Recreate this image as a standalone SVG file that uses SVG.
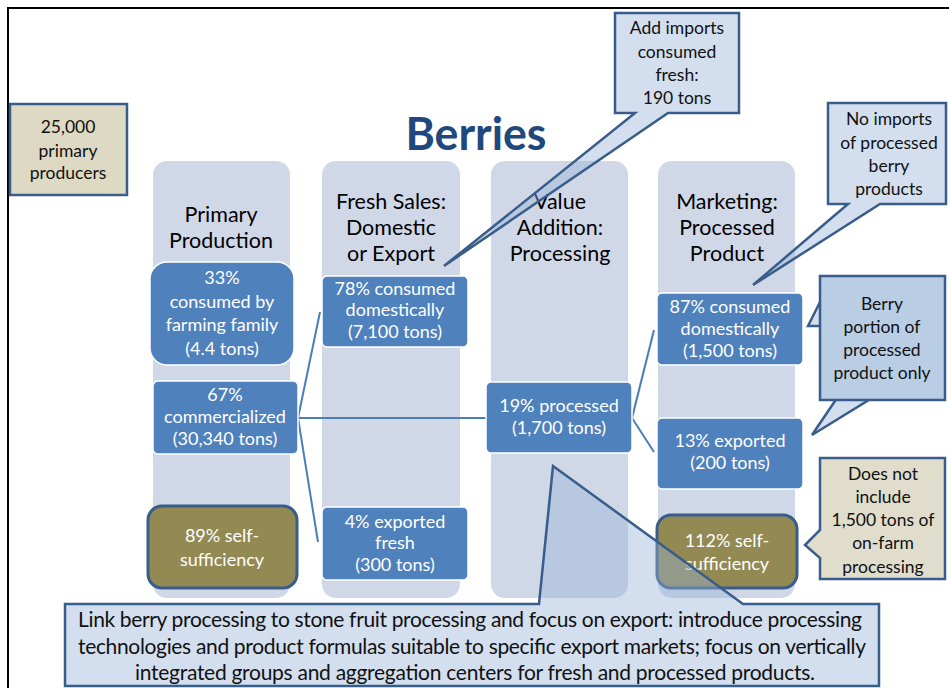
<svg xmlns="http://www.w3.org/2000/svg" width="949" height="688" viewBox="0 0 949 688">
  <style>
    text { font-family: Lato, "Open Sans", "Liberation Sans", sans-serif; text-anchor: middle; }
    .col { fill: #d0d8e8; }
    .head { font-size: 21.5px; fill: #000; }
    .box { fill: #4f81bd; stroke: #ffffff; stroke-width: 1.5; }
    .box-t { font-size: 18px; fill: #ffffff; }
    .olive { fill: #938953; stroke: #385d8a; stroke-width: 3; }
    .note { fill: #95b3d7; fill-opacity: 0.42; stroke: #385d8a; stroke-width: 2.5; stroke-linejoin: miter; }
    .note-t { font-size: 17.5px; fill: #111; }
    .tan { fill: #ddd9c3; stroke: #385d8a; stroke-width: 2.5; }
    .link { stroke: #4a7ebb; stroke-width: 2; fill: none; }
    .rec-t { font-size: 21px; fill: #111; }
  </style>

  <!-- page frame -->
  <path d="M8,688 V8 H949" fill="none" stroke="#000" stroke-width="2"/>

  <!-- title -->
  <text x="476" y="150" font-size="46" font-weight="bold" fill="#1f497d" textLength="141" lengthAdjust="spacingAndGlyphs">Berries</text>

  <!-- stage columns -->
  <g id="col-primary">
    <rect class="col" x="153" y="161" width="137" height="437" rx="14"/>
    <text class="head" x="221" y="222">Primary</text>
    <text class="head" x="221" y="248">Production</text>
  </g>
  <g id="col-fresh">
    <rect class="col" x="322" y="161" width="138" height="437" rx="14"/>
    <text class="head" x="391" y="209">Fresh Sales:</text>
    <text class="head" x="391" y="235">Domestic</text>
    <text class="head" x="391" y="261">or Export</text>
  </g>
  <g id="col-value">
    <rect class="col" x="491" y="161" width="137" height="437" rx="14"/>
    <text class="head" x="560" y="209">Value</text>
    <text class="head" x="560" y="235">Addition:</text>
    <text class="head" x="560" y="261">Processing</text>
  </g>
  <g id="col-marketing">
    <rect class="col" x="658" y="161" width="137" height="437" rx="14"/>
    <text class="head" x="727" y="209">Marketing:</text>
    <text class="head" x="727" y="235">Processed</text>
    <text class="head" x="727" y="261">Product</text>
  </g>

  <!-- flow connectors -->
  <g id="connectors">
    <path class="link" d="M298,418 L320,312"/>
    <path class="link" d="M298,418 H487"/>
    <path class="link" d="M298,418 L318,542"/>
    <path class="link" d="M632,418 L654,330"/>
    <path class="link" d="M632,418 L654,452"/>
  </g>

  <!-- flow nodes -->
  <g id="n-family">
    <rect class="box" x="150" y="262" width="144" height="103" rx="17"/>
    <text class="box-t" x="222" y="284">33%</text>
    <text class="box-t" x="222" y="308">consumed by</text>
    <text class="box-t" x="222" y="331">farming family</text>
    <text class="box-t" x="222" y="355">(4.4 tons)</text>
  </g>
  <g id="n-commercial">
    <rect class="box" x="153" y="381" width="145" height="73" rx="5"/>
    <text class="box-t" x="225" y="401">67%</text>
    <text class="box-t" x="225" y="423">commercialized</text>
    <text class="box-t" x="225" y="445">(30,340 tons)</text>
  </g>
  <g id="n-fresh-dom">
    <rect class="box" x="322" y="276" width="146" height="71" rx="5"/>
    <text class="box-t" x="395" y="295">78% consumed</text>
    <text class="box-t" x="395" y="316">domestically</text>
    <text class="box-t" x="395" y="338">(7,100 tons)</text>
  </g>
  <g id="n-fresh-exp">
    <rect class="box" x="322" y="507" width="146" height="73" rx="5"/>
    <text class="box-t" x="395" y="528">4% exported</text>
    <text class="box-t" x="395" y="549">fresh</text>
    <text class="box-t" x="395" y="571">(300 tons)</text>
  </g>
  <g id="n-processed">
    <rect class="box" x="486" y="382" width="146" height="71" rx="5"/>
    <text class="box-t" x="559" y="412">19% processed</text>
    <text class="box-t" x="559" y="434">(1,700 tons)</text>
  </g>
  <g id="n-proc-dom">
    <rect class="box" x="657" y="293" width="146" height="72" rx="5"/>
    <text class="box-t" x="730" y="313">87% consumed</text>
    <text class="box-t" x="730" y="335">domestically</text>
    <text class="box-t" x="730" y="357">(1,500 tons)</text>
  </g>
  <g id="n-proc-exp">
    <rect class="box" x="657" y="418" width="146" height="71" rx="5"/>
    <text class="box-t" x="730" y="447">13% exported</text>
    <text class="box-t" x="730" y="469">(200 tons)</text>
  </g>
  <g id="n-self-primary">
    <rect class="olive" x="148" y="506" width="149" height="82" rx="14"/>
    <text class="box-t" x="222" y="542">89% self-</text>
    <text class="box-t" x="222" y="566">sufficiency</text>
  </g>
  <g id="n-self-processed">
    <rect class="olive" x="657" y="515" width="140" height="73" rx="14"/>
    <text class="box-t" x="727" y="547">112% self-</text>
    <text class="box-t" x="727" y="570">sufficiency</text>
  </g>

  <!-- side notes -->
  <g id="note-producers">
    <rect class="tan" x="10" y="104" width="117" height="91"/>
    <text class="note-t" x="68" y="133" font-size="19">25,000</text>
    <text class="note-t" x="68" y="157" font-size="19">primary</text>
    <text class="note-t" x="68" y="179" font-size="19">producers</text>
  </g>
  <g id="note-imports-fresh">
    <path class="note" d="M615,13 H739 V113 H668 L444,266 L635,113 H615 Z"/>
    <text class="note-t" x="677" y="34">Add imports</text>
    <text class="note-t" x="677" y="58">consumed</text>
    <text class="note-t" x="677" y="81">fresh:</text>
    <text class="note-t" x="677" y="104">190 tons</text>
  </g>
  <g id="note-imports-processed">
    <path class="note" d="M828,103 H946 V204 H880 L753,285 L848,204 H828 Z"/>
    <text class="note-t" x="889" y="125">No imports</text>
    <text class="note-t" x="889" y="149">of processed</text>
    <text class="note-t" x="889" y="172">berry</text>
    <text class="note-t" x="889" y="195">products</text>
  </g>
  <g id="note-berry-portion">
    <path class="note" d="M823,296 L808,326 L824,326 Z"/>
    <path class="note" d="M837,398 L812,435 L872,398 Z"/>
    <rect x="820" y="276" width="125" height="124" fill="#b9cde5" stroke="#385d8a" stroke-width="2.5"/>
    <text class="note-t" x="882" y="310" font-size="18">Berry</text>
    <text class="note-t" x="882" y="333" font-size="18">portion of</text>
    <text class="note-t" x="882" y="356" font-size="18">processed</text>
    <text class="note-t" x="882" y="379" font-size="18">product only</text>
  </g>
  <g id="note-on-farm">
    <path class="tan" d="M820,458 H945 V579 H820 V558 L805,545 L820,530 Z" style="fill:#e0ddcd"/>
    <text class="note-t" x="883" y="480">Does not</text>
    <text class="note-t" x="883" y="503">include</text>
    <text class="note-t" x="883" y="526">1,500 tons of</text>
    <text class="note-t" x="883" y="549">on-farm</text>
    <text class="note-t" x="883" y="573">processing</text>
  </g>
  <g id="note-recommendation">
    <path class="note" d="M65,604 H539 L553,466 L743,604 H879 V686 H65 Z"/>
    <text class="rec-t" x="470" y="627" textLength="784" lengthAdjust="spacing">Link berry processing to stone fruit processing and focus on export: introduce processing</text>
    <text class="rec-t" x="472" y="654" textLength="788" lengthAdjust="spacing">technologies and product formulas suitable to specific export markets; focus on vertically</text>
    <text class="rec-t" x="475" y="680" textLength="680" lengthAdjust="spacing">integrated groups and aggregation centers for fresh and processed products.</text>
  </g>
</svg>
